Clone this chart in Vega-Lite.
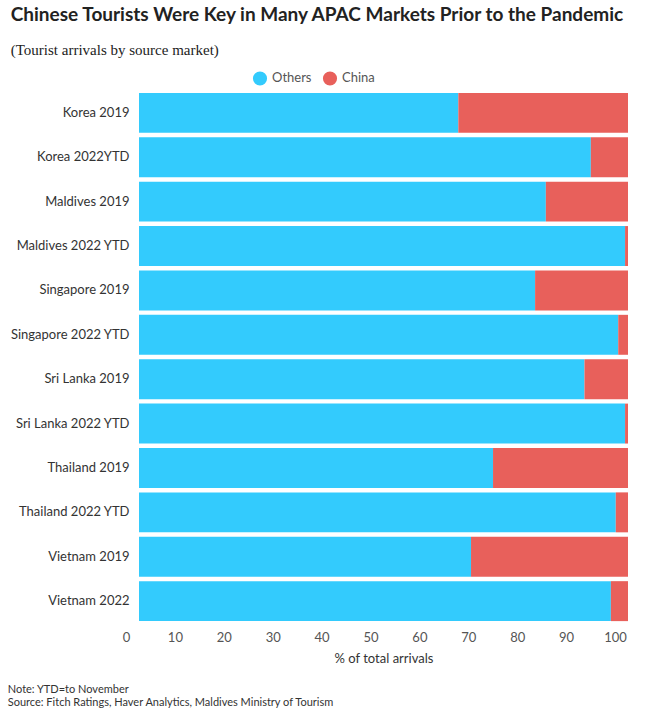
{
  "$schema": "https://vega.github.io/schema/vega-lite/v6.json",
  "background": "white",
  "padding": {"left": 7, "top": 6, "right": 20, "bottom": 5},
  "title": {
    "text": "Chinese Tourists Were Key in Many APAC Markets Prior to the Pandemic",
    "subtitle": "(Tourist arrivals by source market)",
    "anchor": "start",
    "frame": "bounds",
    "dx": 3,
    "font": "Lato",
    "fontSize": 19,
    "fontWeight": "bold",
    "color": "#222222",
    "subtitleFont": "Liberation Serif",
    "subtitleFontSize": 15,
    "subtitleColor": "#222222",
    "subtitlePadding": 18,
    "offset": 12
  },
  "data": {
    "values": [
      {"market": "Korea 2019", "source": "Others", "share": 65.3},
      {"market": "Korea 2019", "source": "China", "share": 34.7},
      {"market": "Korea 2022YTD", "source": "Others", "share": 92.4},
      {"market": "Korea 2022YTD", "source": "China", "share": 7.6},
      {"market": "Maldives 2019", "source": "Others", "share": 83.2},
      {"market": "Maldives 2019", "source": "China", "share": 16.8},
      {"market": "Maldives 2022 YTD", "source": "Others", "share": 99.4},
      {"market": "Maldives 2022 YTD", "source": "China", "share": 0.6},
      {"market": "Singapore 2019", "source": "Others", "share": 81.0},
      {"market": "Singapore 2019", "source": "China", "share": 19.0},
      {"market": "Singapore 2022 YTD", "source": "Others", "share": 98.0},
      {"market": "Singapore 2022 YTD", "source": "China", "share": 2.0},
      {"market": "Sri Lanka 2019", "source": "Others", "share": 91.1},
      {"market": "Sri Lanka 2019", "source": "China", "share": 8.9},
      {"market": "Sri Lanka 2022 YTD", "source": "Others", "share": 99.4},
      {"market": "Sri Lanka 2022 YTD", "source": "China", "share": 0.6},
      {"market": "Thailand 2019", "source": "Others", "share": 72.4},
      {"market": "Thailand 2019", "source": "China", "share": 27.6},
      {"market": "Thailand 2022 YTD", "source": "Others", "share": 97.5},
      {"market": "Thailand 2022 YTD", "source": "China", "share": 2.5},
      {"market": "Vietnam 2019", "source": "Others", "share": 67.9},
      {"market": "Vietnam 2019", "source": "China", "share": 32.1},
      {"market": "Vietnam 2022", "source": "Others", "share": 96.5},
      {"market": "Vietnam 2022", "source": "China", "share": 3.5}
    ]
  },
  "vconcat": [
    {
      "width": 489,
      "height": 530,
      "mark": {"type": "bar"},
      "encoding": {
        "y": {
          "field": "market",
          "type": "nominal",
          "sort": null,
          "scale": {"paddingInner": 0.1, "paddingOuter": 0.02},
          "axis": {
            "title": null,
            "ticks": false,
            "domain": false,
            "labelFont": "Lato",
            "labelFontSize": 13,
            "labelColor": "#333333",
            "labelPadding": 10
          }
        },
        "x": {
          "field": "share",
          "type": "quantitative",
          "stack": "zero",
          "scale": {"domain": [0, 100], "nice": false},
          "axis": {
            "title": "% of total arrivals",
            "values": [0, 10, 20, 30, 40, 50, 60, 70, 80, 90, 100],
            "grid": false,
            "ticks": false,
            "domain": false,
            "labelFlush": false,
            "labelOffset": -13,
            "labelFont": "Lato",
            "labelFontSize": 13,
            "labelColor": "#555555",
            "labelPadding": 9,
            "titleFont": "Lato",
            "titleFontSize": 13,
            "titleFontWeight": "normal",
            "titleColor": "#333333",
            "titlePadding": 8
          }
        },
        "color": {
          "field": "source",
          "type": "nominal",
          "scale": {"domain": ["Others", "China"], "range": ["#33CBFD", "#E8605B"]},
          "legend": {
            "title": null,
            "orient": "none",
            "direction": "horizontal",
            "legendX": 113,
            "legendY": -22,
            "symbolType": "circle",
            "symbolSize": 200,
            "symbolOpacity": 1,
            "labelFont": "Lato",
            "labelFontSize": 13,
            "labelColor": "#555555",
            "columnPadding": 10
          }
        },
        "order": {"field": "source", "sort": "descending"}
      }
    },
    {
      "width": 1,
      "height": 1,
      "data": {"values": [{}]},
      "mark": {"type": "point", "opacity": 0},
      "title": {
        "text": "Note: YTD=to November",
        "subtitle": "Source: Fitch Ratings, Haver Analytics, Maldives Ministry of Tourism",
        "anchor": "start",
        "frame": "bounds",
        "dx": -129,
        "font": "Lato",
        "fontSize": 11,
        "fontWeight": "normal",
        "color": "#333333",
        "subtitleFont": "Lato",
        "subtitleFontSize": 11,
        "subtitleColor": "#333333",
        "subtitlePadding": 2,
        "offset": 0
      }
    }
  ],
  "spacing": 18,
  "config": {"view": {"stroke": null}}
}
